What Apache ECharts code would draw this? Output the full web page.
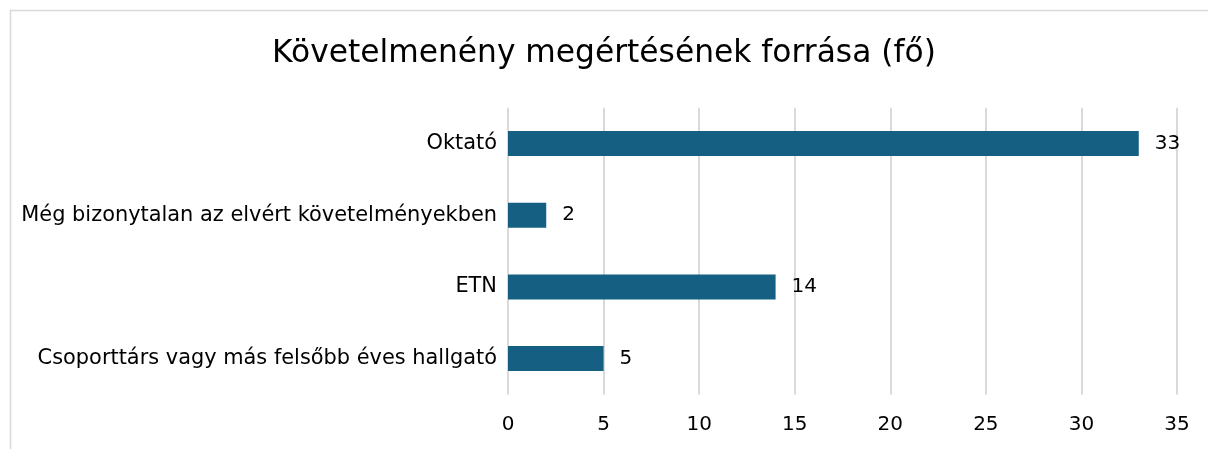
<!DOCTYPE html>
<html>
<head>
<meta charset="utf-8">
<script src="https://cdn.jsdelivr.net/npm/echarts@6/dist/echarts.min.js"></script>
<style>html,body{margin:0;padding:0;background:#fff;}#c{width:1208px;height:449px;}</style>
</head>
<body>
<div id="c"></div>
<script>
const title = 'Követelmenény megértésének forrása (fő)';
const categories = ['Oktató', 'Még bizonytalan az elvért követelményekben', 'ETN', 'Csoporttárs vagy más felsőbb éves hallgató'];
const values = [33, 2, 14, 5];
const axisMin = 0, axisMax = 35, axisStep = 5;

const chart = echarts.init(document.getElementById('c'), null, {renderer: 'canvas'});
chart.setOption({
  animation: false,
  backgroundColor: '#ffffff',
  graphic: [{
    type: 'rect', left: 8, top: 8, silent: true,
    shape: {width: 1220, height: 460},
    style: {fill: 'none', stroke: '#d9d9d9', lineWidth: 1.5}
  }],
  title: {
    text: title, left: 'center', top: 33,
    textStyle: {fontFamily: 'DejaVu Sans', fontSize: 31.3, fontWeight: 'normal', color: '#000'}
  },
  grid: {left: 508, right: 31, top: 107.7, bottom: 54.6, containLabel: false},
  xAxis: {
    type: 'value', min: axisMin, max: axisMax, interval: axisStep,
    axisLine: {show: false}, axisTick: {show: false},
    splitLine: {lineStyle: {color: '#d9d9d9', width: 2}},
    axisLabel: {fontFamily: 'DejaVu Sans', fontSize: 20, color: '#000', margin: 20}
  },
  yAxis: {
    type: 'category', data: categories, inverse: true,
    axisLine: {show: false}, axisTick: {show: false},
    axisLabel: {fontFamily: 'DejaVu Sans', fontSize: 20.9, color: '#000', margin: 11}
  },
  series: [{
    type: 'bar', data: values, barWidth: 25,
    itemStyle: {color: '#156082'},
    label: {show: true, position: 'right', distance: 16, fontFamily: 'DejaVu Sans', fontSize: 20, color: '#000'}
  }]
});
</script>
</body>
</html>
